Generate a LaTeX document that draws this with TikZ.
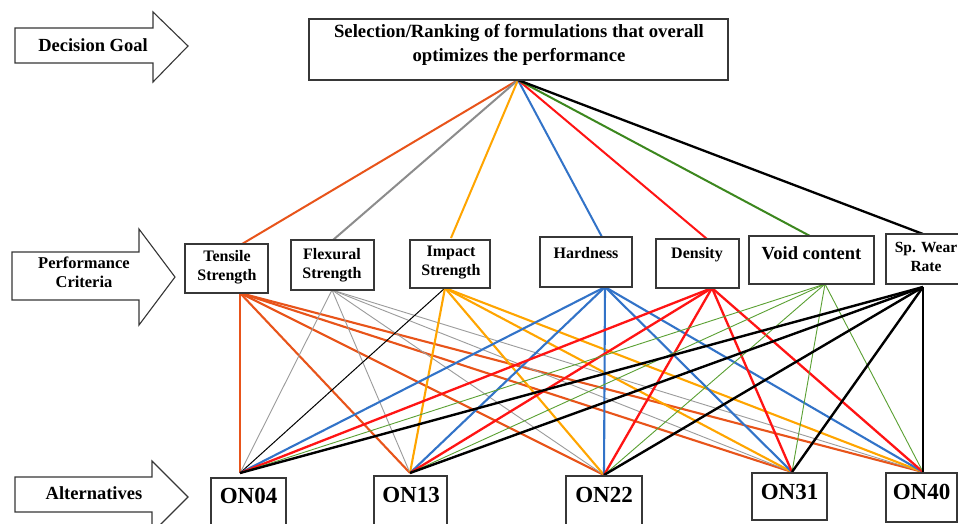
\documentclass[tikz,border=0pt]{standalone}
\usepackage{fontspec}
\setmainfont{Liberation Serif}
\definecolor{cTen}{RGB}{232,84,26}
\definecolor{cFlx}{RGB}{140,140,140}
\definecolor{cFlxT}{RGB}{155,155,155}
\definecolor{cImp}{RGB}{255,165,0}
\definecolor{cHrd}{RGB}{50,115,200}
\definecolor{cDen}{RGB}{255,20,20}
\definecolor{cVoid}{RGB}{60,135,30}
\definecolor{cVoidT}{RGB}{90,160,50}
\definecolor{edge}{RGB}{55,55,55}
\tikzset{
  boxshape/.style={draw=edge,line width=1.2pt,fill=white},
  arrowshape/.style={draw=edge,line width=1.1pt,fill=white,line join=miter},
  lbl/.style={anchor=base,inner sep=0pt,align=center,font=\bfseries},
  topline/.style={line width=2pt},
  thickline/.style={line width=2.1pt},
  thinline/.style={line width=0.9pt},
}
\begin{document}
\begin{tikzpicture}[x=1pt,y=-1pt]
\useasboundingbox (0,0) rectangle (958,523);
\clip (0,0) rectangle (958,523);
\fill[white] (0,0) rectangle (958,523);

% ---- side arrows ----
\draw[arrowshape] (15,28) -- (153,28) -- (153,12) -- (188,46) -- (153,82) -- (153,63) -- (15,63) -- cycle;
\node[lbl,font=\bfseries\fontsize{18.5}{22}\selectfont] (lgoal) at (93,51) {Decision Goal};
\draw[arrowshape] (12,252) -- (139,252) -- (139,229) -- (175,277) -- (139,325) -- (139,300) -- (12,300) -- cycle;
\node[lbl,font=\bfseries\fontsize{16.5}{18}\selectfont,anchor=north] (lcrit) at (84,257) {Performance\\[1pt]Criteria};
\draw[arrowshape] (15,477) -- (152,477) -- (152,461) -- (188,497) -- (152,533) -- (152,512) -- (15,512) -- cycle;
\node[lbl,font=\bfseries\fontsize{18.5}{22}\selectfont] (lalt) at (94,499) {Alternatives};

% ---- attachment coordinates ----
\coordinate (G) at (518,80);
\coordinate (T1) at (242,244); \coordinate (B1) at (240,293);
\coordinate (T2) at (333,240); \coordinate (B2) at (332,290);
\coordinate (T3) at (451,238); \coordinate (B3) at (445,288);
\coordinate (T4) at (602,237); \coordinate (B4) at (605,287);
\coordinate (T5) at (707,239); \coordinate (B5) at (712,288);
\coordinate (T6) at (810,236); \coordinate (B6) at (825,284);
\coordinate (T7) at (923,234); \coordinate (B7) at (923,287);
\coordinate (A1) at (240,473);
\coordinate (A2) at (410,473);
\coordinate (A3) at (604,475);
\coordinate (A4) at (792,472);
\coordinate (A5) at (923,472);

% ---- goal to criteria ----
\draw[topline,cTen] (G) -- (T1);
\draw[topline,cFlx] (G) -- (T2);
\draw[topline,cImp] (G) -- (T3);
\draw[topline,cHrd] (G) -- (T4);
\draw[topline,cDen] (G) -- (T5);
\draw[topline,cVoid] (G) -- (T6);
\draw[line width=2.3pt,black] (G) -- (T7);

% ---- criteria to alternatives ----
\foreach \a in {A1,A2,A3,A4,A5} \draw[cTen,thickline] (B1) -- (\a);
\foreach \a in {A1,A2,A3,A4,A5} \draw[cFlxT,thinline] (B2) -- (\a);
\draw[black,line width=1pt] (B3) -- (A1);
\foreach \a in {A2,A3,A4,A5} \draw[cImp,thickline] (B3) -- (\a);
\foreach \a in {A1,A2,A3,A4,A5} \draw[cHrd,thickline] (B4) -- (\a);
\foreach \a in {A1,A2,A3,A4,A5} \draw[cDen,line width=2.3pt] (B5) -- (\a);
\foreach \a in {A1,A2,A3,A4,A5} \draw[cVoidT,thinline] (B6) -- (\a);
\foreach \a in {A1,A2,A3,A4,A5} \draw[black,line width=2.4pt] (B7) -- (\a);

% ---- goal box ----
\draw[boxshape] (309,19) rectangle (728,80);
\node[lbl,font=\bfseries\fontsize{18.7}{24}\selectfont,anchor=north] (goal) at (519,24) {Selection/Ranking of formulations that overall\\optimizes the performance};

% ---- criteria boxes ----
\draw[boxshape] (185,244) rectangle (268,293);
\node[lbl,font=\bfseries\fontsize{16}{19}\selectfont,anchor=north] (ten) at (227,250) {Tensile\\Strength};
\draw[boxshape] (291,240) rectangle (374,290);
\node[lbl,font=\bfseries\fontsize{16}{19}\selectfont,anchor=north] (flx) at (332,248) {Flexural\\Strength};
\draw[boxshape] (410,240) rectangle (490,288);
\node[lbl,font=\bfseries\fontsize{16}{19}\selectfont,anchor=north] (imp) at (451,246) {Impact\\Strength};
\draw[boxshape] (540,237) rectangle (632,287);
\node[lbl,font=\bfseries\fontsize{16}{19}\selectfont] (hrd) at (586,258) {Hardness};
\draw[boxshape] (656,239) rectangle (739,288);
\node[lbl,font=\bfseries\fontsize{16}{19}\selectfont] (den) at (697,258) {Density};
\draw[boxshape] (749,236) rectangle (874,284);
\node[lbl,font=\bfseries\fontsize{18.5}{22}\selectfont] (void) at (811.5,259) {Void content};
\draw[boxshape] (886,234) rectangle (968,284);
\node[lbl,font=\bfseries\fontsize{15.5}{19}\selectfont,anchor=north] (wear) at (926,242) {Sp. Wear\\Rate};

% ---- alternative boxes ----
\draw[boxshape] (211,478) rectangle (286,540);
\node[lbl,font=\bfseries\fontsize{23}{26}\selectfont] (on04) at (248.5,503) {ON04};
\draw[boxshape] (374,476) rectangle (447,540);
\node[lbl,font=\bfseries\fontsize{23}{26}\selectfont] (on13) at (411,502) {ON13};
\draw[boxshape] (566,476) rectangle (642,540);
\node[lbl,font=\bfseries\fontsize{23}{26}\selectfont] (on22) at (604,502) {ON22};
\draw[boxshape] (752,473) rectangle (827,520);
\node[lbl,font=\bfseries\fontsize{23}{26}\selectfont] (on31) at (789.5,499) {ON31};
\draw[boxshape] (886,473) rectangle (957,522);
\node[lbl,font=\bfseries\fontsize{23}{26}\selectfont] (on40) at (921.5,499) {ON40};
\end{tikzpicture}
\end{document}
